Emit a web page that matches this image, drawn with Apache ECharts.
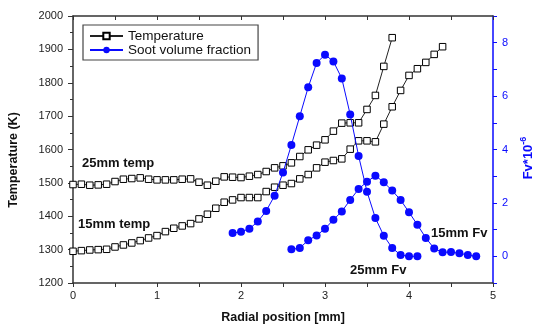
<!DOCTYPE html>
<html>
<head>
<meta charset="utf-8">
<script src="https://cdn.jsdelivr.net/npm/echarts@6/dist/echarts.min.js"></script>
<style>
html,body{margin:0;padding:0;background:#fff;}
#c{width:539px;height:329px;}
</style>
</head>
<body>
<div id="c"></div>
<script>
// ---- data ----
var temp25X = [0,0.1,0.2,0.3,0.4,0.5,0.6,0.7,0.8,0.9,1.0,1.1,1.2,1.3,1.4,1.5,1.6,1.7,1.8,1.9,2.0,2.1,2.2,2.3,2.4,2.5,2.6,2.7,2.8,2.9,3.0,3.1,3.2,3.3,3.4,3.5,3.6,3.7,3.8];
var temp25Y = [1495,1496,1493,1494,1496,1504,1511,1513,1515,1511,1509,1509,1509,1511,1512,1502,1493,1505,1518,1517,1516,1520,1525,1534,1545,1551,1560,1579,1599,1613,1629,1655,1679,1680,1680,1720,1762,1849,1935];
var temp15X = [0,0.1,0.2,0.3,0.4,0.5,0.6,0.7,0.8,0.9,1.0,1.1,1.2,1.3,1.4,1.5,1.6,1.7,1.8,1.9,2.0,2.1,2.2,2.3,2.4,2.5,2.6,2.7,2.8,2.9,3.0,3.1,3.2,3.3,3.4,3.5,3.6,3.7,3.8,3.9,4.0,4.1,4.2,4.3,4.4];
var temp15Y = [1295,1297,1299,1300,1301,1308,1314,1320,1327,1335,1342,1354,1364,1371,1378,1392,1406,1424,1442,1449,1456,1456,1456,1474,1487,1493,1498,1512,1525,1545,1562,1567,1572,1601,1626,1626,1623,1676,1728,1777,1822,1842,1861,1885,1908];
var fv25X = [1.9,2.0,2.1,2.2,2.3,2.4,2.5,2.6,2.7,2.8,2.9,3.0,3.1,3.2,3.3,3.4,3.5,3.6,3.7,3.8,3.9,4.0,4.1];
var fv25Y = [0.87,0.92,1.03,1.30,1.70,2.27,3.14,4.17,5.25,6.33,7.24,7.55,7.30,6.66,5.31,3.76,2.42,1.43,0.77,0.31,0.05,0.0,0.0];
var fv15X = [2.6,2.7,2.8,2.9,3.0,3.1,3.2,3.3,3.4,3.5,3.6,3.7,3.8,3.9,4.0,4.1,4.2,4.3,4.4,4.5,4.6,4.7,4.8];
var fv15Y = [0.26,0.31,0.60,0.78,1.03,1.37,1.68,2.11,2.52,2.79,3.02,2.77,2.46,2.11,1.65,1.18,0.69,0.29,0.15,0.16,0.11,0.05,0.0];
var rightTickLabels = [0,2,4,6,8];
var annotations = [
  {text:'25mm temp', x:82, y:164},
  {text:'15mm temp', x:78, y:225},
  {text:'15mm Fv', x:431, y:234},
  {text:'25mm Fv', x:350, y:271}
];

function pairs(xs, ys){ return xs.map(function(x,i){ return [x, ys[i]]; }); }

var FONT = '"Liberation Sans", Arial, sans-serif';
var BLUE = '#0a0aff';
var AX = '#333';

var chart = echarts.init(document.getElementById('c'), null, {renderer:'canvas'});
var tempStyle = {
  type:'line', xAxisIndex:0, yAxisIndex:0, symbol:'rect', symbolSize:6.5,
  itemStyle:{color:'#fff', borderColor:'#000', borderWidth:1},
  lineStyle:{color:'#222', width:1}, animation:false, z:3
};
var fvStyle = {
  type:'line', xAxisIndex:0, yAxisIndex:1, symbol:'circle', symbolSize:8,
  itemStyle:{color:BLUE}, lineStyle:{color:BLUE, width:1}, animation:false, z:4
};

var option = {
  animation:false,
  textStyle:{fontFamily:FONT},
  grid:{left:73, right:46, top:16, bottom:44, containLabel:false},
  legend:{
    left:83, top:25, orient:'vertical', itemGap:0, itemWidth:33, itemHeight:8,
    padding:[4,7,3,6], borderColor:'#444', borderWidth:1.2, backgroundColor:'#fff',
    textStyle:{fontFamily:FONT, fontSize:13.5, color:'#111', padding:[0,0,0,0]},
    data:['Temperature','Soot volume fraction']
  },
  xAxis:[{
    type:'value', min:0, max:5, interval:1, position:'bottom',
    name:'Radial position [mm]', nameLocation:'middle', nameGap:28,
    nameTextStyle:{fontFamily:FONT, fontWeight:'bold', fontSize:12.5, color:'#111'},
    axisLine:{show:true, onZero:false, lineStyle:{color:AX, width:1.5}},
    axisTick:{show:true, inside:false, length:4, lineStyle:{color:AX}},
    minorTick:{show:true, splitNumber:2, length:4, lineStyle:{color:AX}},
    axisLabel:{fontSize:11, color:'#222', margin:7, fontFamily:FONT},
    splitLine:{show:false}
  },{
    type:'value', min:0, max:5, interval:0.5, position:'top',
    axisLine:{show:true, onZero:false, lineStyle:{color:AX, width:1.5}},
    axisTick:{show:true, inside:true, length:4, lineStyle:{color:AX}},
    axisLabel:{show:false}, splitLine:{show:false}
  }],
  yAxis:[{
    type:'value', min:1200, max:2000, interval:100, position:'left',
    axisLine:{show:true, onZero:false, lineStyle:{color:AX, width:1.5}},
    axisTick:{show:true, inside:false, length:5, lineStyle:{color:AX}},
    minorTick:{show:true, splitNumber:2, length:3, lineStyle:{color:AX}},
    axisLabel:{fontSize:11, color:'#222', margin:10, fontFamily:FONT,
      formatter:function(v){ return String(v); }},
    splitLine:{show:false}
  },{
    type:'value', min:-1, max:9, interval:1, position:'right',
    axisLine:{show:true, onZero:false, lineStyle:{color:BLUE, width:1.5}},
    axisTick:{show:true, inside:false, length:4, lineStyle:{color:BLUE}},
    axisLabel:{fontSize:11, color:BLUE, margin:9, fontFamily:FONT,
      formatter:function(v){ return rightTickLabels.indexOf(v) >= 0 ? String(v) : ''; }},
    splitLine:{show:false}
  }],
  series:[
    Object.assign({name:'Temperature', data:pairs(temp25X, temp25Y)}, tempStyle),
    Object.assign({name:'Temperature', data:pairs(temp15X, temp15Y)}, tempStyle),
    Object.assign({name:'Soot volume fraction', data:pairs(fv25X, fv25Y)}, fvStyle),
    Object.assign({name:'Soot volume fraction', data:pairs(fv15X, fv15Y)}, fvStyle)
  ],
  graphic:[].concat(
    annotations.map(function(a){
      return {type:'text', left:a.x, top:a.y - 7, z:10,
        style:{text:a.text, font:'bold 13px ' + FONT, fill:'#111'}};
    }),
    [{
      type:'text', x:14, y:160, rotation:Math.PI/2, z:10,
      style:{text:'Temperature (K)', font:'bold 12.5px ' + FONT, fill:'#111',
        textAlign:'center', textVerticalAlign:'middle'}
    },{
      type:'text', x:528, y:158, rotation:Math.PI/2, z:10,
      style:{text:'Fv*10{s|-6}', font:'bold 13px ' + FONT, fill:BLUE,
        textAlign:'center', textVerticalAlign:'middle',
        rich:{s:{fontSize:9, fontWeight:'bold', fontFamily:FONT, fill:BLUE, verticalAlign:'top', padding:[0,0,8,0]}}}
    }]
  )
};
chart.setOption(option);
</script>
</body>
</html>
